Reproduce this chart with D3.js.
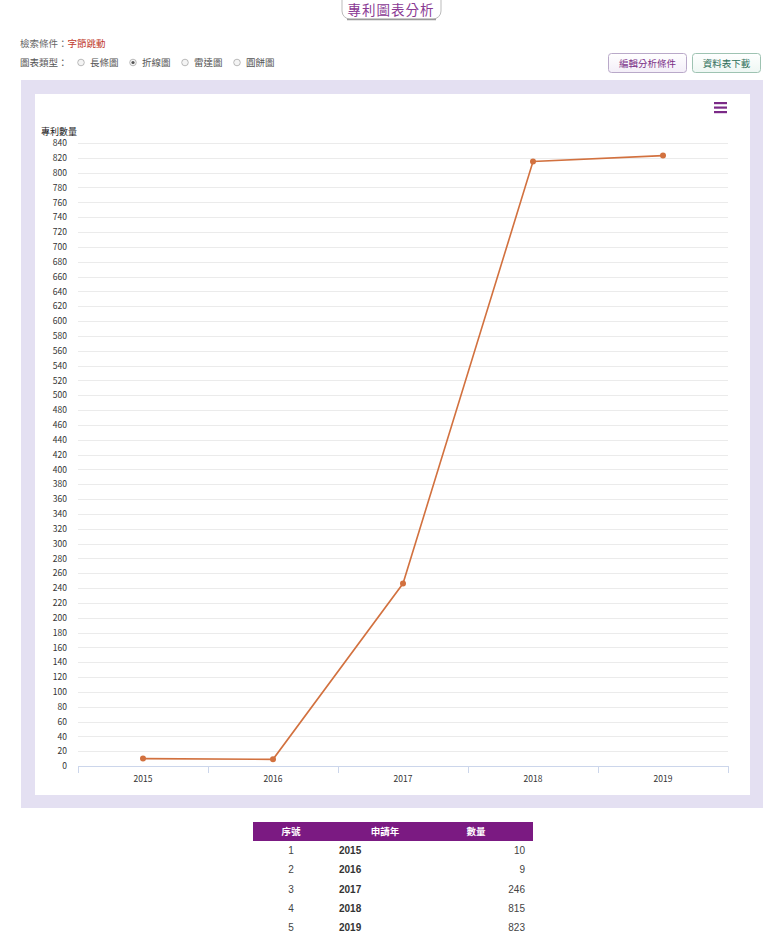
<!DOCTYPE html>
<html><head><meta charset="utf-8">
<script src="https://cdn.jsdelivr.net/npm/d3@7/dist/d3.min.js"></script>
<style>
html,body{margin:0;padding:0;background:#fff;}
svg{display:block;font-family:"Noto Sans CJK TC","Noto Sans",Arial,sans-serif;}
</style></head>
<body>
<svg id="c" width="768" height="940"></svg>
<script>
const years = ["2015","2016","2017","2018","2019"];
const counts = [10, 9, 246, 815, 823];
const yTicks = d3.range(0, 841, 20);
const tableHeaders = ["序號","申請年","數量"];
const chartTypes = ["長條圖","折線圖","雷達圖","圓餅圖"];
const selectedType = "折線圖";

const svg = d3.select("#c");
const FONT = '"Noto Sans CJK TC","Noto Sans",sans-serif';

// Title button
const tg = svg.append("g");
tg.append("rect").attr("x",342).attr("y",-8).attr("width",99).attr("height",27).attr("rx",8)
  .attr("fill","#fff").attr("stroke","#bbb").attr("stroke-width",1);
tg.append("line").attr("x1",347).attr("x2",436).attr("y1",19.5).attr("y2",19.5).attr("stroke","#999").attr("stroke-width",1.5);
tg.append("text").attr("x",391).attr("y",15).attr("text-anchor","middle")
  .attr("font-size",13.5).attr("fill","#8a3a94").attr("letter-spacing",1).text("專利圖表分析");

// condition
const cond = svg.append("text").attr("x",20).attr("y",47).attr("font-size",9.5);
cond.append("tspan").attr("fill","#666").text("檢索條件：");
cond.append("tspan").attr("fill","#c0392b").text("字節跳動");

// chart types
const ct = svg.append("g");
ct.append("text").attr("x",20).attr("y",66).attr("font-size",9.5).attr("fill","#555").text("圖表類型：");
let cx = 78;
chartTypes.forEach(t=>{
  ct.append("circle").attr("cx",cx+3).attr("cy",62.5).attr("r",3.3).attr("fill","#f4f4f4").attr("stroke","#aaa").attr("stroke-width",0.8);
  if(t===selectedType) ct.append("circle").attr("cx",cx+3).attr("cy",62.5).attr("r",1.6).attr("fill","#555");
  ct.append("text").attr("x",cx+12).attr("y",66).attr("font-size",9.5).attr("fill","#555").text(t);
  cx += 52;
});

// buttons
const btns = [{x:608,w:78,t:"編輯分析條件",fill:"#f3eef8",stroke:"#b9a9c9",col:"#7a2f86"},
              {x:692,w:68,t:"資料表下載",fill:"#eef7f3",stroke:"#9ec3b2",col:"#2f6f5a"}];
btns.forEach(b=>{
  const defsId = "g"+b.x;
  const grad = svg.append("defs").append("linearGradient").attr("id",defsId).attr("x1",0).attr("x2",0).attr("y1",0).attr("y2",1);
  grad.append("stop").attr("offset","0").attr("stop-color","#fff");
  grad.append("stop").attr("offset","1").attr("stop-color",b.fill);
  svg.append("rect").attr("x",b.x+0.5).attr("y",53.5).attr("width",b.w).attr("height",19).attr("rx",3)
    .attr("fill",`url(#${defsId})`).attr("stroke",b.stroke);
  svg.append("text").attr("x",b.x+b.w/2+0.5).attr("y",67).attr("text-anchor","middle").attr("font-size",9.5)
    .attr("fill",b.col).text(b.t);
});

// frame
svg.append("rect").attr("x",21).attr("y",80).attr("width",742).attr("height",728).attr("fill","#e4e0f2");
svg.append("rect").attr("x",35).attr("y",94).attr("width",715).attr("height",701).attr("fill","#fff");

// menu icon
[103,107.5,112].forEach(y=>svg.append("rect").attr("x",714).attr("y",y-1).attr("width",13).attr("height",2.2).attr("fill","#7b2a87"));

// scales
const x = d3.scaleBand().domain(years).range([78,728]);
const y = d3.scaleLinear().domain([0,840]).range([766,143]);

// grid
svg.append("g").selectAll("line").data(yTicks.filter(d=>d>0)).join("line")
  .attr("x1",78).attr("x2",728).attr("y1",d=>Math.round(y(d))+0.5).attr("y2",d=>Math.round(y(d))+0.5)
  .attr("stroke","#ebebeb").attr("stroke-width",1);

// y axis labels
const yAxis = d3.axisLeft(y).tickValues(yTicks).tickSize(0).tickPadding(0);
const ya = svg.append("g").attr("transform","translate(67,0)").call(yAxis);
ya.select(".domain").remove();
ya.selectAll("text").attr("font-size",8.5).attr("fill","#333").attr("font-family",FONT);

svg.append("text").attr("x",41).attr("y",135).attr("font-size",9).attr("fill","#222").text("專利數量");

// x axis
const xAxis = d3.axisBottom(x).tickSize(0).tickPadding(9);
const xa = svg.append("g").attr("transform","translate(0,766.5)").call(xAxis);
xa.select(".domain").attr("stroke","#ccd6eb").attr("d","M78,0H728");
xa.selectAll("text").attr("font-size",8.5).attr("fill","#333").attr("font-family",FONT);
// boundary tick marks
const bounds = years.map(d=>x(d)).concat([728]);
svg.append("g").selectAll("line").data(bounds).join("line")
  .attr("x1",d=>Math.round(d)+0.5).attr("x2",d=>Math.round(d)+0.5).attr("y1",766).attr("y2",773)
  .attr("stroke","#ccd6eb");

// line
const pts = years.map((d,i)=>({yr:d,v:counts[i]}));
const line = d3.line().x(d=>x(d.yr)+x.bandwidth()/2).y(d=>y(d.v));
svg.append("path").datum(pts).attr("d",line).attr("fill","none").attr("stroke","#d2713f").attr("stroke-width",1.6);
svg.append("g").selectAll("circle").data(pts).join("circle")
  .attr("cx",d=>x(d.yr)+x.bandwidth()/2).attr("cy",d=>y(d.v)).attr("r",3).attr("fill","#d2713f");

// table
const tx = 253, tw = 280;
svg.append("rect").attr("x",tx).attr("y",822).attr("width",tw).attr("height",19).attr("fill","#7b1a82");
const headX = [291,385,476];
tableHeaders.forEach((h,i)=>svg.append("text").attr("x",headX[i]).attr("y",835).attr("text-anchor","middle")
  .attr("font-size",9.5).attr("fill","#fff").attr("font-weight","bold").text(h));
pts.forEach((p,i)=>{
  const ry = 854 + i*19.3;
  svg.append("text").attr("x",291).attr("y",ry).attr("text-anchor","middle").attr("font-size",10).attr("fill","#444").attr("font-family","Arial, Liberation Sans, sans-serif").text(i+1);
  svg.append("text").attr("x",339).attr("y",ry).attr("font-size",10).attr("font-weight","bold").attr("fill","#333").attr("font-family","Arial, Liberation Sans, sans-serif").text(p.yr);
  svg.append("text").attr("x",525).attr("y",ry).attr("text-anchor","end").attr("font-size",10).attr("fill","#444").attr("font-family","Arial, Liberation Sans, sans-serif").text(p.v);
});
</script>
</body></html>
